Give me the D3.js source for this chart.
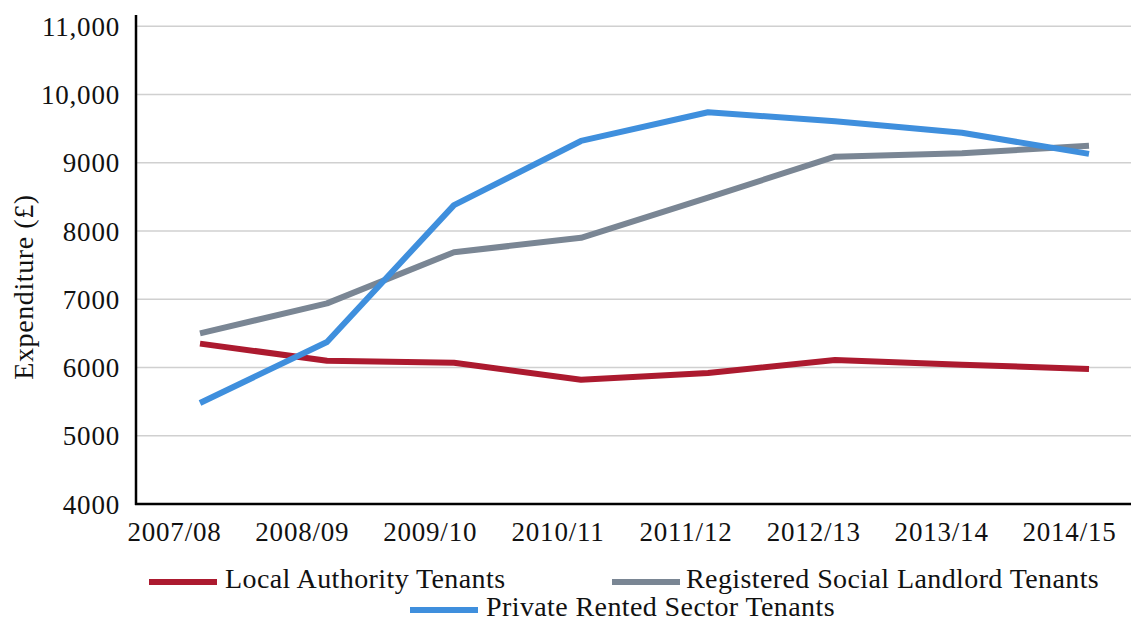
<!DOCTYPE html>
<html>
<head>
<meta charset="utf-8">
<script src="https://cdn.jsdelivr.net/npm/d3@7"></script>
<style>
  html, body { margin: 0; padding: 0; background: #fff; }
  svg { display: block; font-family: "Liberation Serif", "Times New Roman", serif; }
</style>
</head>
<body>
<svg id="chart" width="1131" height="622"></svg>
<script>
const categories = ["2007/08", "2008/09", "2009/10", "2010/11", "2011/12", "2012/13", "2013/14", "2014/15"];
const localAuthority = [6350, 6100, 6070, 5820, 5920, 6110, 6040, 5980];
const registeredSocial = [6500, 6940, 7690, 7900, 8490, 9090, 9140, 9250];
const privateRented = [5480, 6375, 8380, 9320, 9740, 9610, 9440, 9130];
const yTicks = [4000, 5000, 6000, 7000, 8000, 9000, 10000, 11000];
const seriesNames = ["Local Authority Tenants", "Registered Social Landlord Tenants", "Private Rented Sector Tenants"];
const seriesColors = ["#AC1A2F", "#7A8694", "#3F8FDD"];

(function () {
const series = [
  { name: seriesNames[0], values: localAuthority, color: seriesColors[0] },
  { name: seriesNames[1], values: registeredSocial, color: seriesColors[1] },
  { name: seriesNames[2], values: privateRented, color: seriesColors[2] }
];

const svg = d3.select("#chart");
const mLeft = 136, mRight = 1131, mTop = 26.3, mBottom = 504;

const x = d3.scalePoint().domain(categories).range([200, 1089]);
const xLabel = d3.scalePoint().domain(categories).range([174, 1069]);
const y = d3.scaleLinear().domain([4000, 11000]).range([mBottom, mTop]);

// gridlines
svg.append("g")
  .selectAll("line")
  .data(yTicks.filter(d => d > 4000))
  .join("line")
  .attr("x1", mLeft).attr("x2", mRight)
  .attr("y1", d => y(d)).attr("y2", d => y(d))
  .attr("stroke", "#D0D0D0").attr("stroke-width", 1.5);

// y tick labels
const fmt = d => d >= 10000 ? d3.format(",")(d) : String(d);
const yAxis = svg.append("g").attr("transform", `translate(${mLeft},0)`)
  .call(d3.axisLeft(y).tickValues(yTicks).tickFormat(fmt).tickSize(0).tickPadding(16));
yAxis.select(".domain").remove();
yAxis.selectAll("text")
  .attr("font-family", "Liberation Serif, serif")
  .attr("font-size", 27)
  .attr("letter-spacing", "0.8px")
  .attr("fill", "#111")
  .attr("dy", "0.34em");

// x tick labels
const xAxis = svg.append("g").attr("transform", `translate(0,${mBottom})`)
  .call(d3.axisBottom(xLabel).tickSize(0).tickPadding(18));
xAxis.select(".domain").remove();
xAxis.selectAll(".tick text")
  .attr("font-family", "Liberation Serif, serif")
  .attr("font-size", 27)
  .attr("letter-spacing", "0.8px")
  .attr("fill", "#111")
  .attr("dy", "0.71em");

// axis lines
svg.append("line").attr("x1", mLeft).attr("x2", mLeft).attr("y1", 15).attr("y2", mBottom + 1)
  .attr("stroke", "#000").attr("stroke-width", 2.5);
svg.append("line").attr("x1", mLeft - 1).attr("x2", mRight).attr("y1", mBottom).attr("y2", mBottom)
  .attr("stroke", "#000").attr("stroke-width", 2.5);

// y title
svg.append("text")
  .attr("transform", "translate(33,287) rotate(-90)")
  .attr("text-anchor", "middle")
  .attr("font-size", 28)
  .attr("letter-spacing", "0.6px")
  .attr("fill", "#111")
  .text("Expenditure (£)");

// lines
const line = d3.line().x((d, i) => x(categories[i])).y(d => y(d));
svg.append("g").selectAll("path")
  .data(series)
  .join("path")
  .attr("d", d => line(d.values))
  .attr("fill", "none")
  .attr("stroke", d => d.color)
  .attr("stroke-width", 6)
  .attr("stroke-linejoin", "round");

// legend
const legendPos = [
  { sx: 149, tx: 225, y: 582 },
  { sx: 612, tx: 686, y: 582 },
  { sx: 410, tx: 486, y: 610 }
];
const lg = svg.append("g").selectAll("g").data(series).join("g");
lg.append("line")
  .attr("x1", (d, i) => legendPos[i].sx).attr("x2", (d, i) => legendPos[i].sx + 68)
  .attr("y1", (d, i) => legendPos[i].y).attr("y2", (d, i) => legendPos[i].y)
  .attr("stroke", d => d.color).attr("stroke-width", 6);
lg.append("text")
  .attr("x", (d, i) => legendPos[i].tx)
  .attr("y", (d, i) => legendPos[i].y + 6)
  .attr("font-size", 28)
  .attr("letter-spacing", "0.4px")
  .attr("fill", "#111")
  .text(d => d.name);
})();
</script>
</body>
</html>
